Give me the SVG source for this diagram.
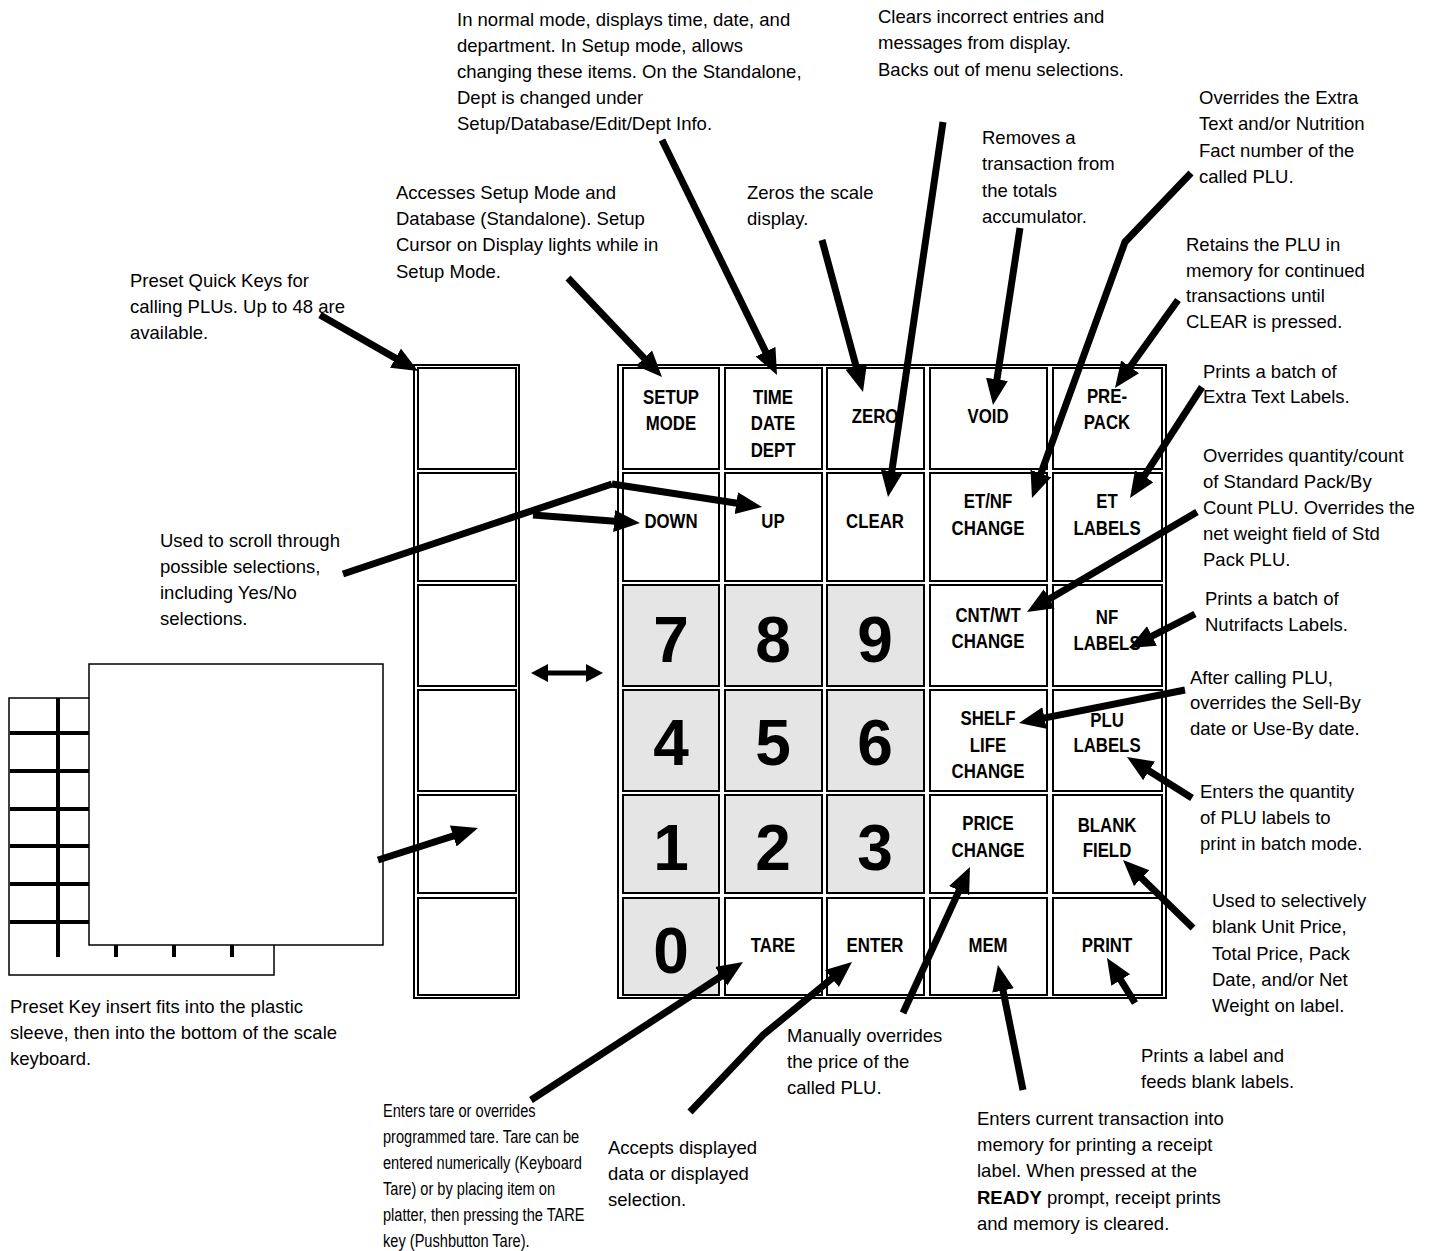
<svg xmlns="http://www.w3.org/2000/svg" width="1429" height="1251" viewBox="0 0 1429 1251">
<defs>
<style>
.t{font-family:"Liberation Sans",Arial,sans-serif;font-size:18.5px;fill:#000}
.n{transform-box:fill-box;transform-origin:left center;transform:scaleX(0.79)}
.k{font-family:"Liberation Sans",Arial,sans-serif;font-weight:bold;font-size:20.5px;fill:#000;text-anchor:middle;transform-box:fill-box;transform-origin:center;transform:scaleX(0.82)}
.d{font-family:"Liberation Sans",Arial,sans-serif;font-weight:bold;font-size:64px;fill:#000;text-anchor:middle}
.box{fill:none;stroke:#000;stroke-width:2}
.key{fill:#fff;stroke:#000;stroke-width:2}
.num{fill:#e5e5e5;stroke:#000;stroke-width:2}
.thin{fill:#fff;stroke:#000;stroke-width:1.5}
.bar{stroke:#000;stroke-width:4;fill:none}
.arr{fill:none;stroke:#000;stroke-width:7;stroke-linejoin:miter}
.arr.h{marker-end:url(#ah)}
</style>
<marker id="ah" markerUnits="userSpaceOnUse" markerWidth="28" markerHeight="24" viewBox="0 0 28 24" refX="11" refY="11" orient="auto">
<path d="M0,0 L26,11 L0,22 z" fill="#000"/>
</marker>
<marker id="sh" markerUnits="userSpaceOnUse" markerWidth="20" markerHeight="20" viewBox="0 0 20 20" refX="2" refY="9" orient="auto-start-reverse">
<path d="M0,0 L17,9 L0,18 z" fill="#000"/>
</marker>
</defs>
<rect x="0" y="0" width="1429" height="1251" fill="#fff"/>

<g id="insert">
<rect class="thin" x="9" y="698" width="265" height="277"/>
<line class="bar" x1="58" y1="698" x2="58" y2="957"/>
<line class="bar" x1="10" y1="733" x2="90" y2="733"/>
<line class="bar" x1="10" y1="771" x2="90" y2="771"/>
<line class="bar" x1="10" y1="809" x2="90" y2="809"/>
<line class="bar" x1="10" y1="846" x2="90" y2="846"/>
<line class="bar" x1="10" y1="884" x2="90" y2="884"/>
<line class="bar" x1="10" y1="922" x2="90" y2="922"/>
<line class="bar" x1="116" y1="945" x2="116" y2="957"/>
<line class="bar" x1="174" y1="945" x2="174" y2="957"/>
<line class="bar" x1="232" y1="945" x2="232" y2="957"/>
<rect class="thin" x="89" y="664" width="294" height="281"/>
</g>

<g id="preset-column">
<rect class="box" x="414" y="365" width="105" height="633"/>
<rect class="key" x="418" y="368" width="98" height="101"/>
<rect class="key" x="418" y="473" width="98" height="108"/>
<rect class="key" x="418" y="585" width="98" height="101"/>
<rect class="key" x="418" y="690" width="98" height="101"/>
<rect class="key" x="418" y="795" width="98" height="98"/>
<rect class="key" x="418" y="898" width="98" height="97"/>
</g>

<g id="keypad">
<rect class="box" x="618" y="365" width="548" height="633"/>
<g id="k-setup"><rect class="key" x="623" y="368" width="96" height="101"/><text class="k" x="671" y="404">SETUP</text><text class="k" x="671" y="430">MODE</text></g>
<g id="k-time"><rect class="key" x="725" y="368" width="97" height="101"/><text class="k" x="773" y="404">TIME</text><text class="k" x="773" y="430">DATE</text><text class="k" x="773" y="457">DEPT</text></g>
<g id="k-zero"><rect class="key" x="827" y="368" width="97" height="101"/><text class="k" x="875" y="423">ZERO</text></g>
<g id="k-void"><rect class="key" x="930" y="368" width="117" height="101"/><text class="k" x="988" y="423">VOID</text></g>
<g id="k-prepack"><rect class="key" x="1053" y="368" width="109" height="101"/><text class="k" x="1107" y="403">PRE-</text><text class="k" x="1107" y="429">PACK</text></g>

<g id="k-down"><rect class="key" x="623" y="473" width="96" height="108"/><text class="k" x="671" y="528">DOWN</text></g>
<g id="k-up"><rect class="key" x="725" y="473" width="97" height="108"/><text class="k" x="773" y="528">UP</text></g>
<g id="k-clear"><rect class="key" x="827" y="473" width="97" height="108"/><text class="k" x="875" y="528">CLEAR</text></g>
<g id="k-etnf"><rect class="key" x="930" y="473" width="117" height="108"/><text class="k" x="988" y="508">ET/NF</text><text class="k" x="988" y="535">CHANGE</text></g>
<g id="k-etlabels"><rect class="key" x="1053" y="473" width="109" height="108"/><text class="k" x="1107" y="508">ET</text><text class="k" x="1107" y="535">LABELS</text></g>

<g id="k-7"><rect class="num" x="623" y="585" width="96" height="101"/><text class="d" x="671" y="662">7</text></g>
<g id="k-8"><rect class="num" x="725" y="585" width="97" height="101"/><text class="d" x="773" y="662">8</text></g>
<g id="k-9"><rect class="num" x="827" y="585" width="97" height="101"/><text class="d" x="875" y="662">9</text></g>
<g id="k-cntwt"><rect class="key" x="930" y="585" width="117" height="101"/><text class="k" x="988" y="622">CNT/WT</text><text class="k" x="988" y="648">CHANGE</text></g>
<g id="k-nflabels"><rect class="key" x="1053" y="585" width="109" height="101"/><text class="k" x="1107" y="624">NF</text><text class="k" x="1107" y="650">LABELS</text></g>

<g id="k-4"><rect class="num" x="623" y="690" width="96" height="101"/><text class="d" x="671" y="765">4</text></g>
<g id="k-5"><rect class="num" x="725" y="690" width="97" height="101"/><text class="d" x="773" y="765">5</text></g>
<g id="k-6"><rect class="num" x="827" y="690" width="97" height="101"/><text class="d" x="875" y="765">6</text></g>
<g id="k-shelf"><rect class="key" x="930" y="690" width="117" height="101"/><text class="k" x="988" y="725">SHELF</text><text class="k" x="988" y="752">LIFE</text><text class="k" x="988" y="778">CHANGE</text></g>
<g id="k-plulabels"><rect class="key" x="1053" y="690" width="109" height="101"/><text class="k" x="1107" y="727">PLU</text><text class="k" x="1107" y="752">LABELS</text></g>

<g id="k-1"><rect class="num" x="623" y="795" width="96" height="98"/><text class="d" x="671" y="870">1</text></g>
<g id="k-2"><rect class="num" x="725" y="795" width="97" height="98"/><text class="d" x="773" y="870">2</text></g>
<g id="k-3"><rect class="num" x="827" y="795" width="97" height="98"/><text class="d" x="875" y="870">3</text></g>
<g id="k-price"><rect class="key" x="930" y="795" width="117" height="98"/><text class="k" x="988" y="830">PRICE</text><text class="k" x="988" y="857">CHANGE</text></g>
<g id="k-blank"><rect class="key" x="1053" y="795" width="109" height="98"/><text class="k" x="1107" y="832">BLANK</text><text class="k" x="1107" y="857">FIELD</text></g>

<g id="k-0"><rect class="num" x="623" y="898" width="96" height="97"/><text class="d" x="671" y="973">0</text></g>
<g id="k-tare"><rect class="key" x="725" y="898" width="97" height="97"/><text class="k" x="773" y="952">TARE</text></g>
<g id="k-enter"><rect class="key" x="827" y="898" width="97" height="97"/><text class="k" x="875" y="952">ENTER</text></g>
<g id="k-mem"><rect class="key" x="930" y="898" width="117" height="97"/><text class="k" x="988" y="952">MEM</text></g>
<g id="k-print"><rect class="key" x="1053" y="898" width="109" height="97"/><text class="k" x="1107" y="952">PRINT</text></g>
</g>

<g id="labels">
<g id="l-preset"><text class="t" x="130" y="287">Preset Quick Keys for</text><text class="t" x="130" y="313">calling PLUs. Up to 48 are</text><text class="t" x="130" y="339">available.</text></g>
<g id="l-setup"><text class="t" x="396" y="199">Accesses Setup Mode and</text><text class="t" x="396" y="225">Database (Standalone). Setup</text><text class="t" x="396" y="251">Cursor on Display lights while in</text><text class="t" x="396" y="278">Setup Mode.</text></g>
<g id="l-time"><text class="t" x="457" y="26">In normal mode, displays time, date, and</text><text class="t" x="457" y="52">department. In Setup mode, allows</text><text class="t" x="457" y="78">changing these items. On the Standalone,</text><text class="t" x="457" y="104">Dept is changed under</text><text class="t" x="457" y="130">Setup/Database/Edit/Dept Info.</text></g>
<g id="l-zero"><text class="t" x="747" y="199">Zeros the scale</text><text class="t" x="747" y="225">display.</text></g>
<g id="l-clear"><text class="t" x="878" y="23">Clears incorrect entries and</text><text class="t" x="878" y="49">messages from display.</text><text class="t" x="878" y="76">Backs out of menu selections.</text></g>
<g id="l-void"><text class="t" x="982" y="144">Removes a</text><text class="t" x="982" y="170">transaction from</text><text class="t" x="982" y="197">the totals</text><text class="t" x="982" y="223">accumulator.</text></g>
<g id="l-etnf"><text class="t" x="1199" y="104">Overrides the Extra</text><text class="t" x="1199" y="130">Text and/or Nutrition</text><text class="t" x="1199" y="157">Fact number of the</text><text class="t" x="1199" y="183">called PLU.</text></g>
<g id="l-prepack"><text class="t" x="1186" y="251">Retains the PLU in</text><text class="t" x="1186" y="277">memory for continued</text><text class="t" x="1186" y="302">transactions until</text><text class="t" x="1186" y="328">CLEAR is pressed.</text></g>
<g id="l-etlabels"><text class="t" x="1203" y="378">Prints a batch of</text><text class="t" x="1203" y="403">Extra Text Labels.</text></g>
<g id="l-cntwt"><text class="t" x="1203" y="462">Overrides quantity/count</text><text class="t" x="1203" y="488">of Standard Pack/By</text><text class="t" x="1203" y="514">Count PLU. Overrides the</text><text class="t" x="1203" y="540">net weight field of Std</text><text class="t" x="1203" y="566">Pack PLU.</text></g>
<g id="l-nflabels"><text class="t" x="1205" y="605">Prints a batch of</text><text class="t" x="1205" y="631">Nutrifacts Labels.</text></g>
<g id="l-shelf"><text class="t" x="1190" y="684">After calling PLU,</text><text class="t" x="1190" y="709">overrides the Sell-By</text><text class="t" x="1190" y="735">date or Use-By date.</text></g>
<g id="l-plulabels"><text class="t" x="1200" y="798">Enters the quantity</text><text class="t" x="1200" y="824">of PLU labels to</text><text class="t" x="1200" y="850">print in batch mode.</text></g>
<g id="l-blank"><text class="t" x="1212" y="907">Used to selectively</text><text class="t" x="1212" y="933">blank Unit Price,</text><text class="t" x="1212" y="960">Total Price, Pack</text><text class="t" x="1212" y="986">Date, and/or Net</text><text class="t" x="1212" y="1012">Weight on label.</text></g>
<g id="l-print"><text class="t" x="1141" y="1062">Prints a label and</text><text class="t" x="1141" y="1088">feeds blank labels.</text></g>
<g id="l-mem"><text class="t" x="977" y="1125">Enters current transaction into</text><text class="t" x="977" y="1151">memory for printing a receipt</text><text class="t" x="977" y="1177">label. When pressed at the</text><text class="t" x="977" y="1204"><tspan font-weight="bold">READY</tspan> prompt, receipt prints</text><text class="t" x="977" y="1230">and memory is cleared.</text></g>
<g id="l-price"><text class="t" x="787" y="1042">Manually overrides</text><text class="t" x="787" y="1068">the price of the</text><text class="t" x="787" y="1094">called PLU.</text></g>
<g id="l-enter"><text class="t" x="608" y="1154">Accepts displayed</text><text class="t" x="608" y="1180">data or displayed</text><text class="t" x="608" y="1206">selection.</text></g>
<g id="l-tare"><text class="t n" x="383" y="1117">Enters tare or overrides</text><text class="t n" x="383" y="1143">programmed tare. Tare can be</text><text class="t n" x="383" y="1169">entered numerically (Keyboard</text><text class="t n" x="383" y="1195">Tare) or by placing item on</text><text class="t n" x="383" y="1221">platter, then pressing the TARE</text><text class="t n" x="383" y="1247">key (Pushbutton Tare).</text></g>
<g id="l-insert"><text class="t" x="10" y="1013">Preset Key insert fits into the plastic</text><text class="t" x="10" y="1039">sleeve, then into the bottom of the scale</text><text class="t" x="10" y="1065">keyboard.</text></g>
<g id="l-scroll"><text class="t" x="160" y="547">Used to scroll through</text><text class="t" x="160" y="573">possible selections,</text><text class="t" x="160" y="599">including Yes/No</text><text class="t" x="160" y="625">selections.</text></g>
</g>

<g id="connectors">
<path class="arr h" d="M320,315 L405,363.6"/>
<path class="arr h" d="M568,278 L651.7,366.1"/>
<path class="arr h" d="M662,140 L770.4,361.5"/>
<path class="arr h" d="M822,240 L859.1,377.5"/>
<path class="arr h" d="M943,122 L890.2,482.2"/>
<path class="arr h" d="M1020,228 L995.3,390.2"/>
<path class="arr h" d="M1191,173 L1125,242 L1037.1,483.9"/>
<path class="arr h" d="M1178,300 L1123.7,375.8"/>
<path class="arr h" d="M1202,387 L1138.2,485.4"/>
<path class="arr h" d="M1197,512 L1039.9,604.4"/>
<path class="arr h" d="M1195,614 L1142.3,641.1"/>
<path class="arr h" d="M1185,690 L1033.7,720.1"/>
<path class="arr h" d="M1192,798 L1139.7,765"/>
<path class="arr h" d="M1193,928 L1133.8,870.5"/>
<path class="arr h" d="M1135,1003 L1114.9,970.7"/>
<path class="arr h" d="M1023,1090 L1000.9,979.7"/>
<path class="arr h" d="M903,1013 L963.7,880.6"/>
<path class="arr h" d="M690,1112 L763,1035 L840.4,971.5"/>
<path class="arr h" d="M531,1100 L730.4,970.2"/>
<path class="arr" d="M343,574 L612,484"/>
<path class="arr h" d="M612,484 L747.2,504.7"/>
<path class="arr h" d="M533,515 L625,521.9"/>
<path class="arr h" d="M378,860 L463.7,832.6"/>
<path d="M546,673 L588,673" fill="none" stroke="#000" stroke-width="5" marker-start="url(#sh)" marker-end="url(#sh)"/>
</g>
</svg>
